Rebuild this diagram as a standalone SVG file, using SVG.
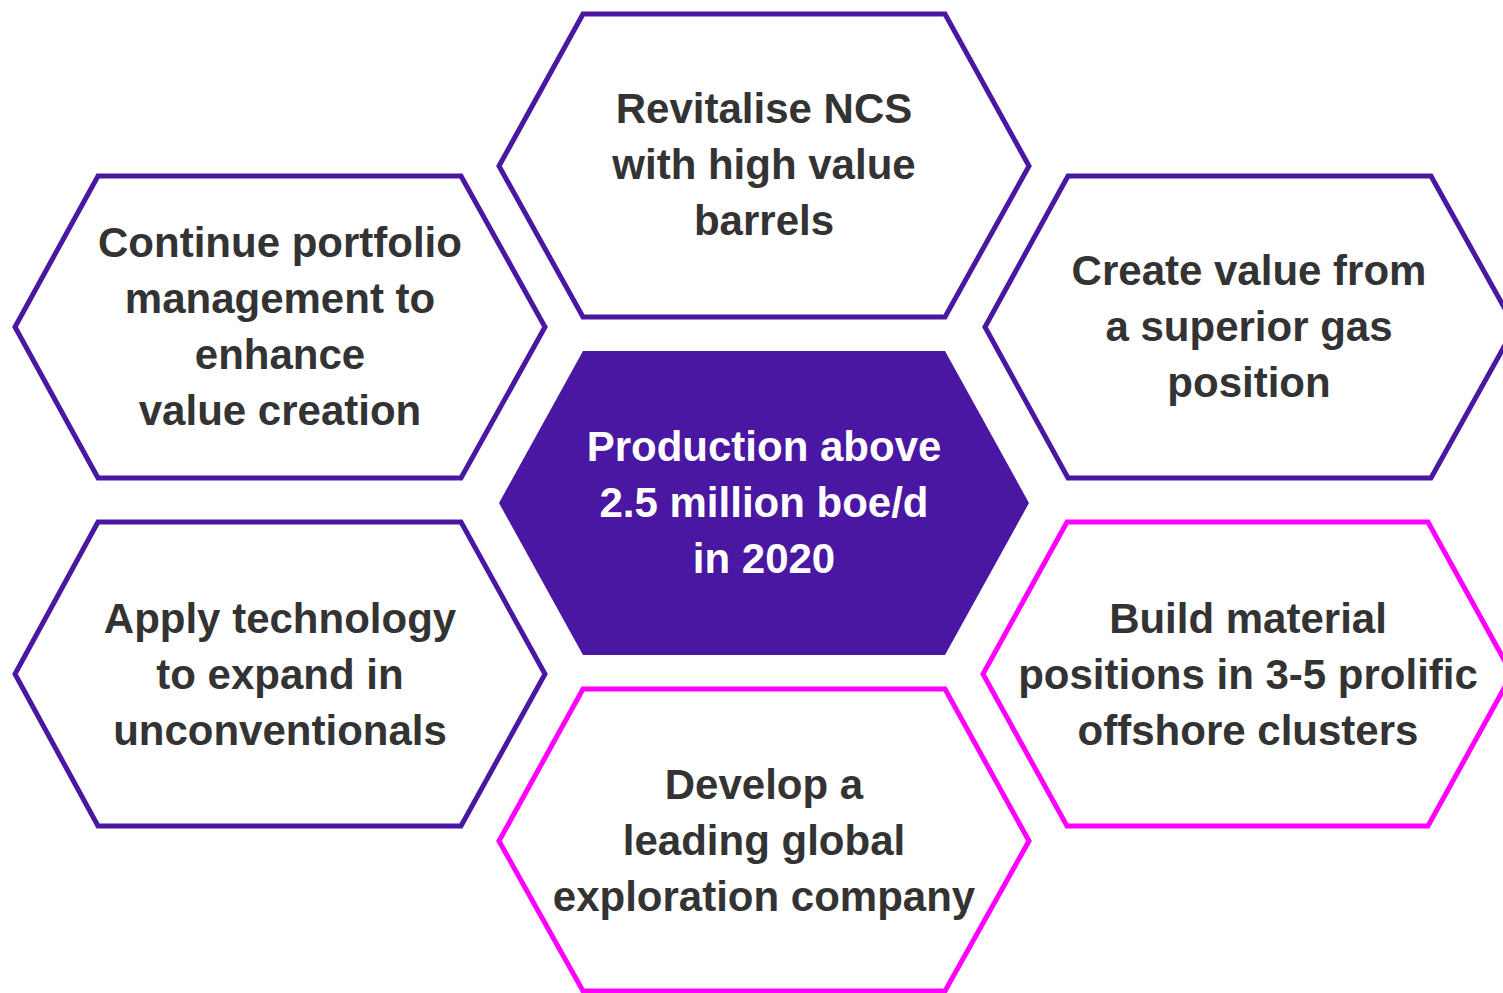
<svg xmlns="http://www.w3.org/2000/svg" width="1503" height="993" viewBox="0 0 1503 993">
<style>
.hx{fill:#fff;stroke-width:5;stroke-linejoin:miter}
.p{stroke:#4A17A3}
.m{stroke:#FF00FF}
.t{font-family:"Liberation Sans",Arial,sans-serif;font-weight:bold;font-size:42px;fill:#333;text-anchor:middle}
.w{fill:#fff}
</style>
<rect width="1503" height="993" fill="#fff"/>
<g id="top">
<polygon class="hx p" points="583,14 945,14 1029,166 945,317 583,317 499,166"/>
<text class="t" x="764" y="123">Revitalise NCS</text>
<text class="t" x="764" y="179">with high value</text>
<text class="t" x="764" y="235">barrels</text>
</g>
<g id="left-top">
<polygon class="hx p" points="98,176 461,176 545,327 461,478 98,478 15,327"/>
<text class="t" x="280" y="257">Continue portfolio</text>
<text class="t" x="280" y="313">management to</text>
<text class="t" x="280" y="369">enhance</text>
<text class="t" x="280" y="425">value creation</text>
</g>
<g id="right-top">
<polygon class="hx p" points="1068,176 1431,176 1515,327 1431,478 1068,478 985,327"/>
<text class="t" x="1249" y="285">Create value from</text>
<text class="t" x="1249" y="341">a superior gas</text>
<text class="t" x="1249" y="397">position</text>
</g>
<g id="center">
<polygon points="583,351 945,351 1029,503 945,655 583,655 499,503" fill="#4A17A3"/>
<text class="t w" x="764" y="461">Production above</text>
<text class="t w" x="764" y="517">2.5 million boe/d</text>
<text class="t w" x="764" y="573">in 2020</text>
</g>
<g id="left-bottom">
<polygon class="hx p" points="98,522 461,522 545,674 461,826 98,826 15,674"/>
<text class="t" x="280" y="633">Apply technology</text>
<text class="t" x="280" y="689">to expand in</text>
<text class="t" x="280" y="745">unconventionals</text>
</g>
<g id="right-bottom">
<polygon class="hx m" points="1067,522 1428,522 1512,674 1428,826 1067,826 983,674"/>
<text class="t" x="1248" y="633">Build material</text>
<text class="t" x="1248" y="689">positions in 3-5 prolific</text>
<text class="t" x="1248" y="745">offshore clusters</text>
</g>
<g id="bottom">
<polygon class="hx m" points="583,689 945,689 1029,841 945,991 583,991 499,841"/>
<text class="t" x="764" y="799">Develop a</text>
<text class="t" x="764" y="855">leading global</text>
<text class="t" x="764" y="911">exploration company</text>
</g>
<g id="connectors"/>
</svg>
